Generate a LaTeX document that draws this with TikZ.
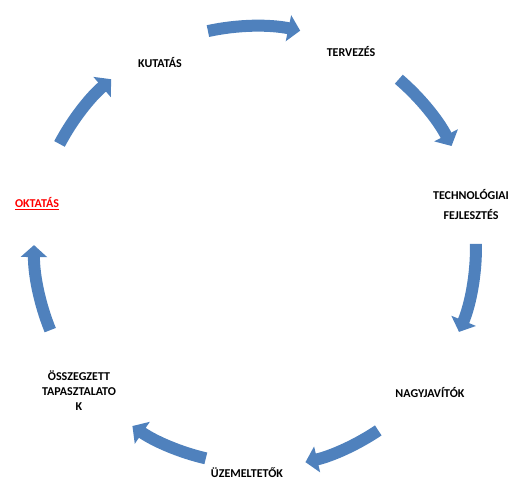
\documentclass[tikz,border=0pt]{standalone}
\usepackage{fontspec}
\setmainfont{Carlito}
\usetikzlibrary{arrows.meta,calc}

\definecolor{cycblue}{RGB}{79,129,189}
\definecolor{hlred}{RGB}{255,0,0}

\begin{document}
\begin{tikzpicture}[x=1pt, y=1pt,
    lbl/.style={font=\fontsize{12}{15}\selectfont\bfseries, align=center, inner sep=0pt},
    cyc/.style={draw=cycblue, line width=12pt, -{Triangle[length=12pt, width=26pt]}}]

    \useasboundingbox (0,0) rectangle (514,482);

    \coordinate (ctr) at (255,235);

    \node[lbl]                   (kut)  at (160,419) {KUTATÁS};
    \node[lbl]                   (terv) at (351,430) {TERVEZÉS};
    \node[lbl, font=\fontsize{12}{20}\selectfont\bfseries]
                                 (tech) at (471,277) {TECHNOLÓGIAI\\FEJLESZTÉS};
    \node[lbl]                   (nagy) at (430,89)  {NAGYJAVÍTÓK};
    \node[lbl]                   (uzem) at (247,9)   {ÜZEMELTETŐK};
    \node[lbl]                   (ossz) at (79,91)   {ÖSSZEGZETT\\TAPASZTALATO\\K};
    \node[lbl, text=hlred]       (okt)  at (37,278)  {\underline{OKTATÁS}};

    % the cycle of arrows
    \draw[cyc] ($(ctr)+(102.3:221)$) arc[start angle=102.3, end angle=78.2,  radius=221];
    \draw[cyc] ($(ctr)+(49.4:221)$)  arc[start angle=49.4,  end angle=27.2,  radius=221];
    \draw[cyc] ($(ctr)+(0.8:221)$)   arc[start angle=0.8,   end angle=-22.6, radius=221];
    \draw[cyc] ($(ctr)+(-56.1:221)$) arc[start angle=-56.1, end angle=-76.8, radius=221];
    \draw[cyc] ($(ctr)+(-103.1:217)$) arc[start angle=-103.1, end angle=-124.4, radius=217];
    \draw[cyc] ($(ctr)+(202.1:221)$) arc[start angle=202.1, end angle=179.5, radius=221];
    \draw[cyc] ($(ctr)+(152.2:221)$) arc[start angle=152.2, end angle=130.6, radius=221];

\end{tikzpicture}
\end{document}
